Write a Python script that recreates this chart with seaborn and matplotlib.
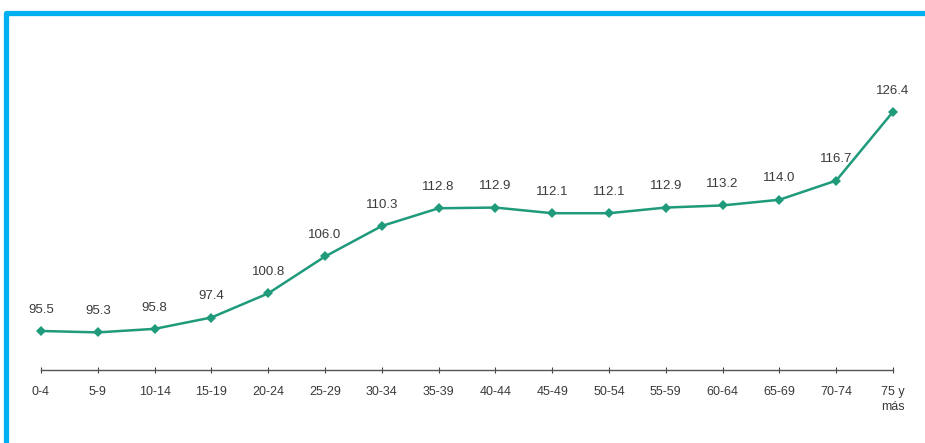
import matplotlib
matplotlib.use("Agg")
import matplotlib.pyplot as plt
from matplotlib.lines import Line2D
import seaborn as sns
import pandas as pd

groups = ["0-4", "5-9", "10-14", "15-19", "20-24", "25-29", "30-34", "35-39",
          "40-44", "45-49", "50-54", "55-59", "60-64", "65-69", "70-74", "75 y\nmás"]
values = [95.5, 95.3, 95.8, 97.4, 100.8, 106.0, 110.3, 112.8,
          112.9, 112.1, 112.1, 112.9, 113.2, 114.0, 116.7, 126.4]

df = pd.DataFrame({"grupo": groups, "valor": values})

sns.set_theme(style="white")
plt.rcParams['font.family'] = ['Liberation Sans', 'DejaVu Sans']

W, H = 925, 443
fig = plt.figure(figsize=(W / 100, H / 100), dpi=100)
ax = fig.add_axes([41 / W, (H - 370) / H, (893 - 41) / W, (370 - 60) / H])

line_color = "#1F9A7B"
sns.lineplot(data=df, x="grupo", y="valor", ax=ax, color=line_color,
             linewidth=1.8, marker="D", markersize=5, markeredgewidth=0,
             sort=False)
for ln in ax.get_lines():
    ln.set_clip_on(False)

for i, v in enumerate(values):
    ax.annotate(f"{v:.1f}", (i, v), xytext=(0, 11), textcoords="offset points",
                ha="center", va="bottom", fontsize=9.5, color="#3a3a3a")

ax.set_xlim(0, len(groups) - 1)
ax.set_ylim(90, 133.7)
ax.set_xlabel("")
ax.set_ylabel("")
ax.set_yticks([])
ax.set_xticks(range(len(groups)))
ax.set_xticklabels(groups, fontsize=9, color="#3a3a3a", linespacing=1.35)
ax.tick_params(axis="x", direction="inout", length=5, width=0.8,
               color="#444444", pad=9, bottom=True)
for s in ["left", "right", "top"]:
    ax.spines[s].set_visible(False)
ax.spines["bottom"].set_color("#555555")
ax.spines["bottom"].set_linewidth(1.0)

border = "#00B0F0"
fig.add_artist(Line2D([5.5 / W, 5.5 / W, 1.0], [0.0, 1 - 12.5 / H, 1 - 12.5 / H],
                      transform=fig.transFigure, color=border, linewidth=3.8,
                      solid_joinstyle="round"))

fig.savefig("out.png", dpi=100, facecolor="white")
